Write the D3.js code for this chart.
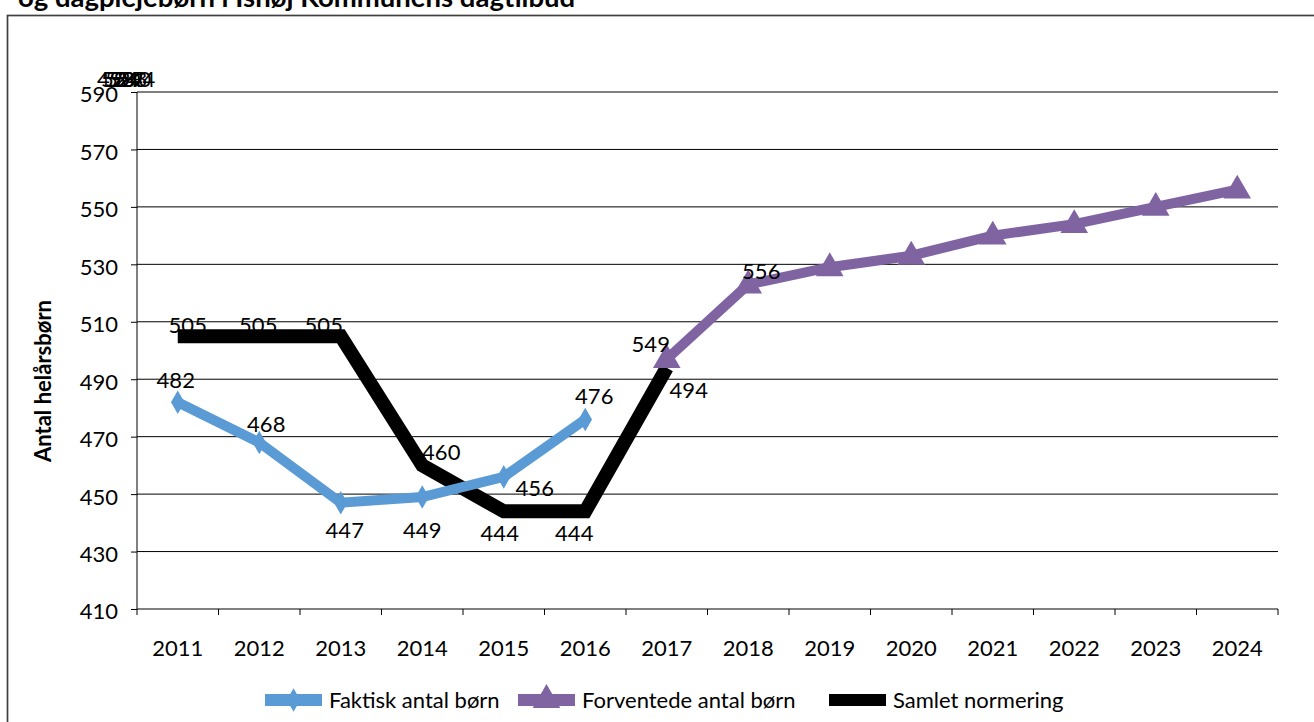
<!DOCTYPE html>
<html>
<head>
<meta charset="utf-8">
<script src="https://cdn.jsdelivr.net/npm/d3@7"></script>
<style>
  body { margin: 0; background: #fff; }
  text { font-family: Lato, "Open Sans", sans-serif; fill: #000; }
</style>
</head>
<body>
<div id="chart"></div>
<script>
// data
var years = ["2011","2012","2013","2014","2015","2016","2017","2018","2019","2020","2021","2022","2023","2024"];
var yTicks = [410, 430, 450, 470, 490, 510, 530, 550, 570, 590];

var faktiskYears = ["2011","2012","2013","2014","2015","2016"];
var faktiskValues = [482, 468, 447, 449, 456, 476];
var faktiskLabels = ["482","468","447","449","456","476"];

var forventYears = ["2017","2018","2019","2020","2021","2022","2023","2024"];
var forventValues = [497, 523, 529, 533, 540, 544, 550, 556];
var forventLabels = ["549","556","498","524","529","533","540","544"];

var samletYears = ["2011","2012","2013","2014","2015","2016","2017"];
var samletValues = [505, 505, 505, 460, 444, 444, 494];
var samletLabels = ["505","505","505","460","444","444","494"];

// label offsets (px) from each point, as Excel placed them
var faktiskOffsets = [[-2,-14],[7,-10],[4,35],[0,41],[31,19],[9,-15]];
var samletOffsets = [[10,-3],[-1,-3],[-17,-3],[19,-5],[-4,30],[-11,30],[22,30]];
var forventOffsets = [[-16,-7],[13,-5]];

var W = 1314, H = 722;
var margin = {top: 92, left: 137, right: 36, bottom: 113};
var width = W - margin.left - margin.right,
    height = H - margin.top - margin.bottom;

var blue = "#5b9bd5", purple = "#8064a2";
var fs = "22px";

var svg = d3.select("#chart").append("svg")
  .attr("width", W).attr("height", H);

// outer chart border (runs off the page on the right and bottom)
svg.append("rect")
  .attr("x", 7.5).attr("y", 15.5)
  .attr("width", 1400).attr("height", 800)
  .attr("fill", "none").attr("stroke", "#404040").attr("stroke-width", 1.7);

// cut-off title
svg.append("text")
  .attr("x", 18).attr("y", 6.5)
  .attr("font-size", "27.5px").attr("font-weight", "bold")
  .text("og dagplejebørn i Ishøj Kommunens dagtilbud");

var g = svg.append("g")
  .attr("transform", "translate(" + margin.left + "," + margin.top + ")");

var x = d3.scaleBand().domain(years).range([0, width]);
var y = d3.scaleLinear().domain([410, 590]).range([height, 0]);
var cx = function(d) { return x(d) + x.bandwidth() / 2; };

// gridlines
g.selectAll(".grid").data(yTicks.slice(1)).enter().append("line")
  .attr("x1", 0).attr("x2", width)
  .attr("y1", function(d) { return y(d); }).attr("y2", function(d) { return y(d); })
  .attr("stroke", "#000").attr("stroke-width", 1);

// y axis
var yAxis = g.append("g")
  .call(d3.axisLeft(y).tickValues(yTicks).tickSize(6).tickPadding(13));
yAxis.selectAll("text").attr("font-size", fs).attr("font-family", "Lato")
  .attr("dy", "0.45em");
yAxis.select(".domain").attr("d", "M0,0V" + (height + 6));

// x axis, ticks on category boundaries
var xAxis = g.append("g").attr("transform", "translate(0," + height + ")")
  .call(d3.axisBottom(x).tickSize(0).tickPadding(31));
xAxis.selectAll("text").attr("font-size", fs).attr("font-family", "Lato");
xAxis.select(".domain").attr("d", "M0,0H" + width);
g.selectAll(".xtick").data(years).enter().append("line")
  .attr("x1", function(d) { return x(d) + x.bandwidth(); })
  .attr("x2", function(d) { return x(d) + x.bandwidth(); })
  .attr("y1", height).attr("y2", height + 6)
  .attr("stroke", "#000");
g.selectAll(".domain, .tick line").attr("stroke", "#000");

// y label
svg.append("text")
  .attr("transform", "translate(51,381) rotate(-90)")
  .attr("text-anchor", "middle")
  .attr("font-size", "22px").attr("font-weight", "bold")
  .text("Antal helårsbørn");

function pts(yrs, vals) {
  return yrs.map(function(d, i) { return [cx(d), y(vals[i])]; });
}
var line = d3.line();

// samlet normering
g.append("path").attr("d", line(pts(samletYears, samletValues)))
  .attr("fill", "none").attr("stroke", "#000").attr("stroke-width", 14);

// faktisk
g.append("path").attr("d", line(pts(faktiskYears, faktiskValues)))
  .attr("fill", "none").attr("stroke", blue).attr("stroke-width", 10);
var diamond = d3.symbol().type(d3.symbolDiamond).size(160);
g.selectAll(".dia").data(pts(faktiskYears, faktiskValues)).enter().append("path")
  .attr("d", diamond)
  .attr("transform", function(p) { return "translate(" + p[0] + "," + p[1] + ")"; })
  .attr("fill", blue);

// forventede
g.append("path").attr("d", line(pts(forventYears, forventValues)))
  .attr("fill", "none").attr("stroke", purple).attr("stroke-width", 10);
var tri = d3.symbol().type(d3.symbolTriangle).size(330);
g.selectAll(".tri").data(pts(forventYears, forventValues)).enter().append("path")
  .attr("d", tri)
  .attr("transform", function(p) { return "translate(" + p[0] + "," + (p[1] + 1) + ")"; })
  .attr("fill", purple);

// data labels
function labels(yrs, vals, txt, offs) {
  yrs.forEach(function(d, i) {
    var o = offs[i];
    var t = g.append("text")
      .attr("font-size", fs)
      .text(txt[i]);
    if (o) {
      t.attr("x", cx(d) + o[0]).attr("y", y(vals[i]) + o[1]).attr("text-anchor", "middle");
    } else {
      // labels Excel stacked in the top-left corner
      t.attr("x", -40 + (i - 2) * 4).attr("y", -5).attr("text-anchor", "start");
    }
  });
}
labels(faktiskYears, faktiskValues, faktiskLabels, faktiskOffsets);
labels(samletYears, samletValues, samletLabels, samletOffsets);
labels(forventYears, forventValues, forventLabels, forventOffsets);

// legend
var legend = [
  {name: "Faktisk antal børn", color: blue, x: 265, mark: diamond},
  {name: "Forventede antal børn", color: purple, x: 518, mark: tri},
  {name: "Samlet normering", color: "#000", x: 829, mark: null}
];
legend.forEach(function(l) {
  svg.append("rect").attr("x", l.x).attr("y", 694).attr("width", 57).attr("height", 12)
    .attr("fill", l.color);
  if (l.mark) {
    svg.append("path").attr("d", l.mark)
      .attr("transform", "translate(" + (l.x + 28.5) + ",700)")
      .attr("fill", l.color);
  }
  svg.append("text").attr("x", l.x + 64).attr("y", 708)
    .attr("font-size", fs).text(l.name);
});
</script>
</body>
</html>
